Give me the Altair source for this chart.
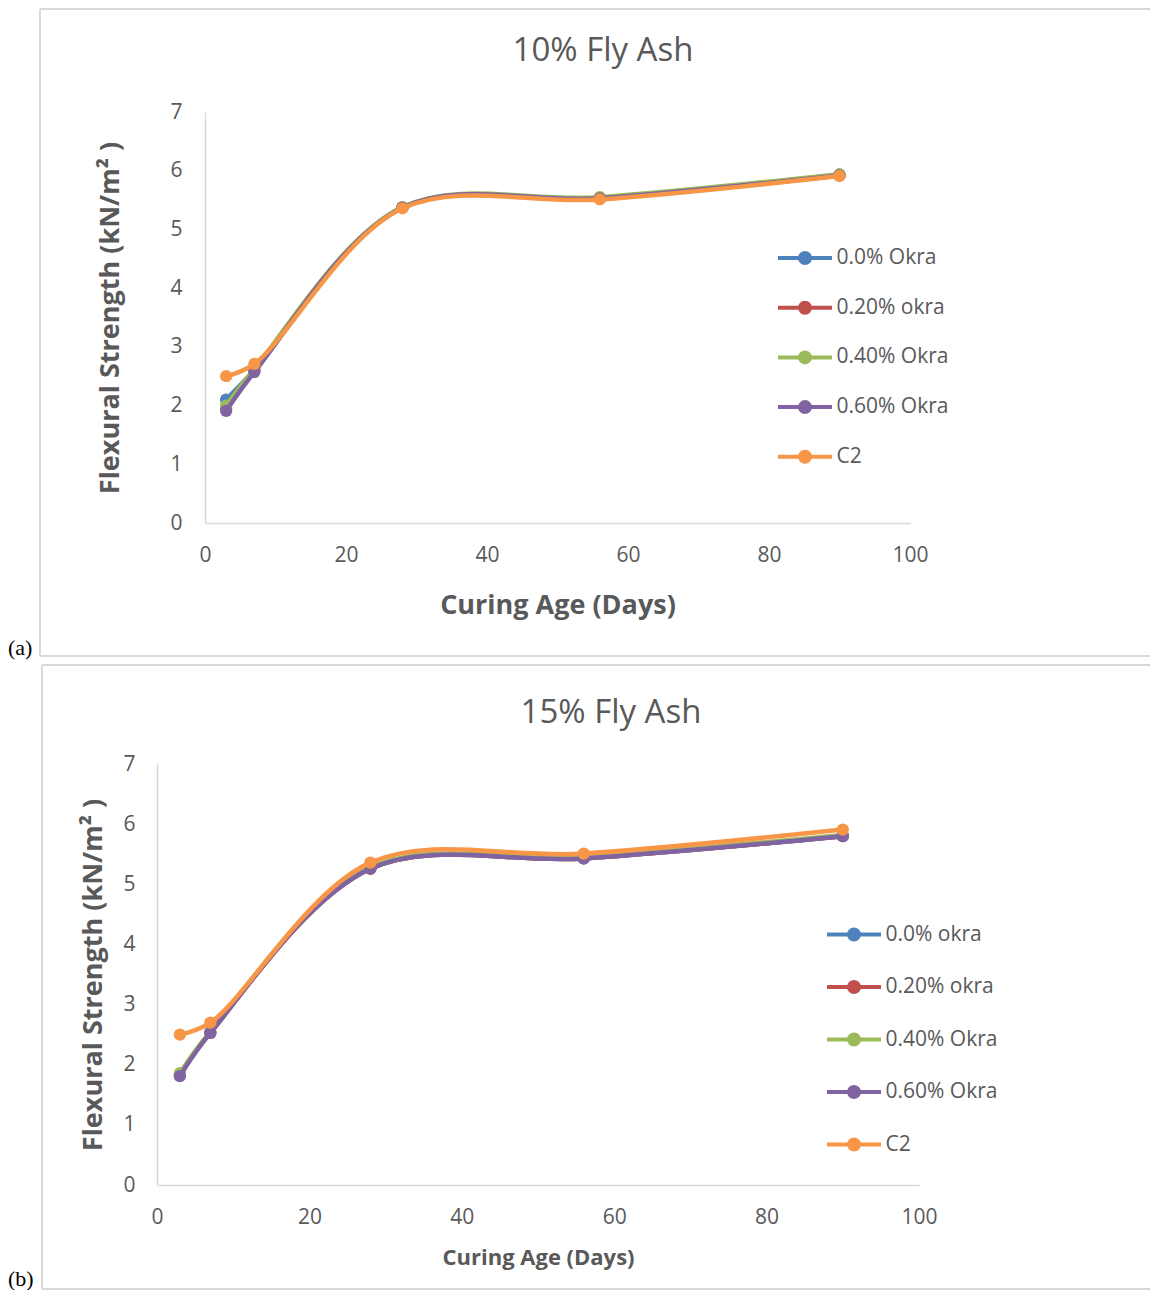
import altair as alt
import pandas as pd

# ---------------- data ----------------
days = [3, 7, 28, 56, 90]

series_a = ["0.0% Okra", "0.20% okra", "0.40% Okra", "0.60% Okra", "C2"]
a_00 = [2.10, 2.60, 5.37, 5.53, 5.92]
a_20 = [1.95, 2.60, 5.37, 5.53, 5.92]
a_40 = [2.00, 2.62, 5.38, 5.55, 5.94]
a_60 = [1.91, 2.57, 5.37, 5.53, 5.92]
a_c2 = [2.50, 2.71, 5.36, 5.51, 5.91]

series_b = ["0.0% okra", "0.20% okra", "0.40% Okra", "0.60% Okra", "C2"]
b_00 = [1.83, 2.53, 5.26, 5.43, 5.80]
b_20 = [1.83, 2.53, 5.26, 5.43, 5.80]
b_40 = [1.86, 2.55, 5.28, 5.45, 5.82]
b_60 = [1.81, 2.53, 5.26, 5.43, 5.80]
b_c2 = [2.50, 2.70, 5.36, 5.51, 5.91]

colors = ["#4F81BD", "#C0504D", "#9BBB59", "#8064A2", "#F79646"]
x_ticks = [0, 20, 40, 60, 80, 100]
y_ticks = [0, 1, 2, 3, 4, 5, 6, 7]

GRAY = "#595959"
FONT = "Open Sans"
BORDER = "#d9d9d9"
SYMBOL = "M-2,0L2,0M-0.37,0A0.37,0.37,0,1,1,0.37,0A0.37,0.37,0,1,1,-0.37,0Z"


def color_signal(series):
    expr = "'%s'" % colors[-1]
    for name, c in reversed(list(zip(series[:-1], colors[:-1]))):
        expr = "datum.value === '%s' ? '%s' : (%s)" % (name, c, expr)
    return expr


def panel(series, values, title, tag, p):
    rows = []
    for name, vals in zip(series, values):
        for d, v in zip(days, vals):
            rows.append({"day": d, "strength": v, "series": name})
    df = pd.DataFrame(rows)

    sig = color_signal(series)
    color = alt.Color(
        "series:N",
        scale=alt.Scale(domain=series, range=colors),
        legend=alt.Legend(
            title=None,
            orient="none",
            legendX=p["lx"],
            legendY=p["ly"],
            labelFont=FONT,
            labelFontSize=21,
            labelColor=GRAY,
            labelOffset=p["loff"],
            symbolType=SYMBOL,
            symbolSize=729,
            symbolStrokeWidth=4,
            symbolFillColor={"expr": sig},
            symbolStrokeColor={"expr": sig},
            symbolOpacity=1,
            rowPadding=p["rowpad"],
            padding=0,
        ),
    )
    x = alt.X(
        "day:Q",
        scale=alt.Scale(domain=[0, 100], nice=False, range=[p["x0"], p["w"]]),
        axis=alt.Axis(
            values=x_ticks, grid=False, ticks=False, labelFlush=False,
            domainColor=BORDER, domainWidth=1.5,
            labelFont=FONT, labelFontSize=21, labelColor=GRAY,
            labelPadding=p["xlp"],
            title="Curing Age (Days)", titleFont=FONT,
            titleFontSize=p["xts"], titleFontWeight="bold", titleColor=GRAY,
            titlePadding=p["xtp"],
        ),
    )
    y = alt.Y(
        "strength:Q",
        scale=alt.Scale(domain=[0, 7], nice=False),
        axis=alt.Axis(
            values=y_ticks, grid=False, ticks=False, labelFlush=False,
            domainColor=BORDER, domainWidth=1.5,
            labelFont=FONT, labelFontSize=21, labelColor=GRAY,
            labelPadding=p["ylp"],
            title="Flexural Strength (kN/m\u00b2 )", titleFont=FONT,
            titleFontSize=27, titleFontWeight="bold", titleColor=GRAY,
            titlePadding=p["ytp"],
            offset=-p["x0"],
        ),
    )

    layers = []
    one = pd.DataFrame({"k": [0]})
    deco = alt.Chart(one)
    # chart-area border (top, left, bottom)
    layers.append(deco.mark_rule(color=BORDER, strokeWidth=2).encode(
        x=alt.value(p["bl"]), x2=alt.value(p["br"]), y=alt.value(p["bt"])))
    layers.append(deco.mark_rule(color=BORDER, strokeWidth=2).encode(
        x=alt.value(p["bl"]), y=alt.value(p["bt"]), y2=alt.value(p["bb"])))
    layers.append(deco.mark_rule(color=BORDER, strokeWidth=2).encode(
        x=alt.value(p["bl"]), x2=alt.value(p["br"]), y=alt.value(p["bb"])))
    # chart title
    layers.append(deco.mark_text(font=FONT, fontSize=33, color=GRAY,
                                 align="center", baseline="middle").encode(
        x=alt.value(p["tx"]), y=alt.value(p["ty"]), text=alt.value(title)))
    # panel tag
    layers.append(deco.mark_text(font="Liberation Serif", fontSize=22, color="black",
                                 align="left", baseline="bottom").encode(
        x=alt.value(p["gx"]), y=alt.value(p["gy"]), text=alt.value(tag)))

    for name in series:
        base = alt.Chart(df).transform_filter(
            alt.FieldEqualPredicate(field="series", equal=name))
        layers.append(base.mark_line(interpolate="catmull-rom", strokeWidth=4.5).encode(
            x=x, y=y, color=color))
        layers.append(base.mark_point(filled=True, size=150, opacity=1).encode(
            x=x, y=y, color=color))

    return alt.layer(*layers).properties(width=p["w"], height=p["h"])


# both panels share a group origin at page x=157; panel (a)'s data area starts 48px further right
pa = dict(w=753, x0=48, h=411, lx=632.5, ly=130.5, loff=16, rowpad=20.7,
          xlp=21, xts=27, xtp=27, ylp=23, ytp=45,
          bl=-117, br=993, bt=-103, bb=544,
          tx=446, ty=-61, gx=-149, gy=548)
pb = dict(w=762, x0=0, h=421, lx=681.5, ly=155, loff=16, rowpad=23.5,
          xlp=21, xts=22, xtp=20, ylp=22, ytp=15,
          bl=-115, br=993, bt=-99, bb=525,
          tx=454, ty=-51, gx=-149, gy=527)

chart_a = panel(series_a, [a_00, a_20, a_40, a_60, a_c2], "10% Fly Ash", "(a)", pa)
chart_b = panel(series_b, [b_00, b_20, b_40, b_60, b_c2], "15% Fly Ash", "(b)", pb)

chart = (
    alt.concat(chart_a, chart_b, columns=1, spacing=5)
    .resolve_scale(color="independent", x="independent", y="independent")
    .resolve_legend(color="independent")
    .properties(padding=0)
    .configure_view(stroke=None)
)

chart.save("out.html", embed_options={"renderer": "svg", "actions": False})
